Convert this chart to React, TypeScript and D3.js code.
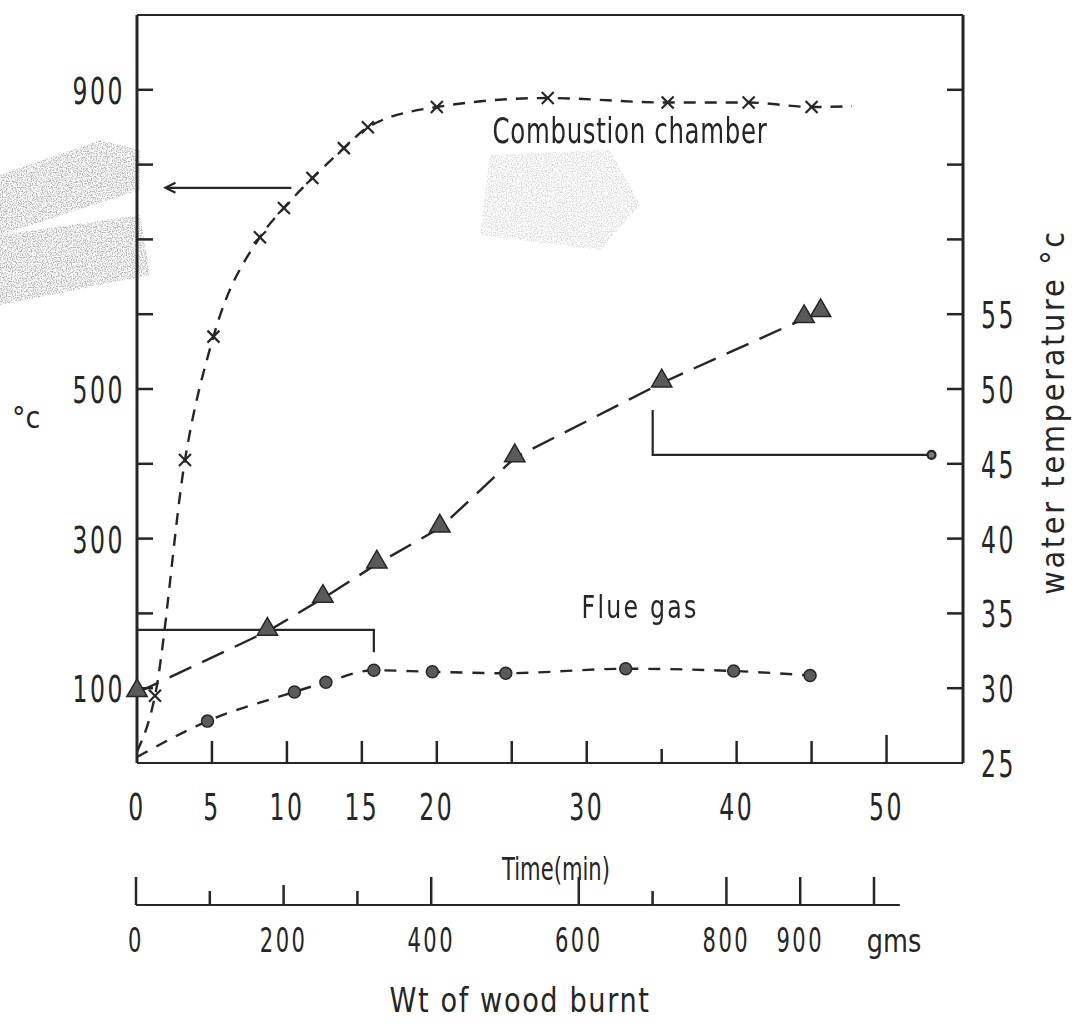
import React from "react";
import * as d3 from "d3";

// ---- data ----
const timeTicks = [5, 10, 15, 20, 25, 30, 35, 40, 45, 50];
const timeLabels = [0, 5, 10, 15, 20, 30, 40, 50];
const leftTicks = [100, 200, 300, 400, 500, 600, 700, 800, 900];
const leftLabels = [100, 300, 500, 900];
const rightTicks = [30, 35, 40, 45, 50, 55, 60, 65, 70];
const rightLabels = [25, 30, 35, 40, 45, 50, 55];
const woodTicks = [0, 100, 200, 300, 400, 600, 700, 800, 900, 1000];
const woodLabels = [0, 200, 400, 600, 800, 900];

const combustionTime = [0, 1.2, 3.2, 5.1, 8.2, 9.8, 11.7, 13.8, 15.4, 20.0, 27.4, 35.4, 40.8, 45.0];
const combustionTemp = [15, 90, 405, 570, 703, 742, 782, 822, 850, 877, 889, 883, 883, 877];
const combustionTail = [47.7, 878];

const waterTime = [0, 8.7, 12.4, 16.0, 20.2, 25.2, 35.0, 44.5, 45.6];
const waterTemp = [29.7, 33.8, 36.0, 38.3, 40.7, 45.4, 50.4, 54.7, 55.1];

const flueTime = [0, 4.7, 10.5, 12.6, 15.8, 19.7, 24.6, 32.6, 39.8, 44.9];
const flueTemp = [8, 56, 95, 108, 124, 122, 120, 126, 123, 117];

// pointer lines (time, value)
const combPointer = { t0: 1.9, t1: 10.3, v: 769 };
const fluePointer = { t0: 0, t1: 15.8, v0: 178, v1: 148 };
const waterPointer = { t: 34.4, t1: 53.0, w0: 48.6, w1: 45.6 };

const INK = "#262626";
const FONT = "'DejaVu Sans', 'Liberation Sans', sans-serif";

function CText({ x, y, children, size = 30, sx = 0.72, anchor = "middle", rotate = 0, ls = 0 }: any) {
  return (
    <text
      transform={`translate(${x},${y}) rotate(${rotate}) scale(${sx},1)`}
      textAnchor={anchor}
      fontSize={size}
      fontFamily={FONT}
      fill={INK}
      letterSpacing={ls}
    >
      {children}
    </text>
  );
}

export default function App() {
  const W = 1082, H = 1031;
  const x = d3.scaleLinear().domain([0, 55.1]).range([137, 963]);
  const yL = d3.scaleLinear().domain([0, 1000]).range([763, 15]);
  const yR = d3.scaleLinear().domain([25, 75]).range([763, 15]);
  const xW = d3.scaleLinear().domain([0, 1000]).range([136, 874]);

  const combPts: [number, number][] = combustionTime.map((t, i) => [x(t), yL(combustionTemp[i])]);
  const combLine = d3.line().curve(d3.curveMonotoneX)([...combPts, [x(combustionTail[0]), yL(combustionTail[1])]]);
  const waterPts: [number, number][] = waterTime.map((t, i) => [x(t), yR(waterTemp[i])]);
  const waterLine = d3.line()(waterPts);
  const fluePts: [number, number][] = flueTime.map((t, i) => [x(t), yL(flueTemp[i])]);
  const flueLine = d3.line().curve(d3.curveMonotoneX)(fluePts);
  const tri = d3.symbol(d3.symbolTriangle, 180)();

  return (
    <svg width={W} height={H} style={{ position: "absolute", left: 0, top: 0, background: "#fff" }}>
      <defs>
        <filter id="speck" x="0" y="0" width="100%" height="100%">
          <feTurbulence type="fractalNoise" baseFrequency="0.8" numOctaves="1" seed="3" result="n" />
          <feColorMatrix in="n" type="matrix" values="0 0 0 0 0.3  0 0 0 0 0.3  0 0 0 0 0.3  0 0 0 -4 2.3" result="m" />
          <feComposite in="m" in2="SourceGraphic" operator="in" />
        </filter>
      </defs>
      {/* scan smudges */}
      <g filter="url(#speck)" opacity={0.7}>
        <path d="M0,175 L100,140 L140,150 L140,190 L0,235 Z" fill="#000" />
        <path d="M0,235 L140,215 L150,275 L0,305 Z" fill="#000" />
        <path d="M490,155 L610,150 L640,205 L600,250 L480,235 Z" fill="#000" opacity={0.5} />
      </g>

      {/* frame */}
      <g stroke={INK} strokeWidth={3} fill="none">
        <line x1={x(0)} y1={yL(0)} x2={x(0)} y2={yL(1000)} />
        <line x1={x(0)} y1={yL(1000)} x2={x(55.1)} y2={yL(1000)} strokeWidth={2} />
        <line x1={x(55.1)} y1={yL(1000)} x2={x(55.1)} y2={yL(0)} />
        <line x1={x(0)} y1={yL(0)} x2={x(55.1)} y2={yL(0)} strokeWidth={2} />
      </g>

      {/* ticks */}
      <g stroke={INK} strokeWidth={2.5}>
        {timeTicks.map((t) => (
          <line key={t} x1={x(t)} x2={x(t)} y1={yL(0)} y2={yL(0) - (t === 50 ? 28 : t === 35 ? 14 : 22)} />
        ))}
        {leftTicks.map((v) => (
          <line key={v} x1={x(0)} x2={x(0) + 16} y1={yL(v)} y2={yL(v)} />
        ))}
        {rightTicks.map((v) => (
          <line key={v} x1={x(55.1)} x2={x(55.1) - 16} y1={yR(v)} y2={yR(v)} />
        ))}
      </g>

      {/* tick labels */}
      {timeLabels.map((t) => (
        <CText key={t} x={x(t)} y={820} size={38} sx={0.62} ls={4}>{t}</CText>
      ))}
      {leftLabels.map((v) => (
        <CText key={v} x={125} y={yL(v) + 14} size={38} sx={0.62} anchor="end" ls={4}>{v}</CText>
      ))}
      {rightLabels.map((v) => (
        <CText key={v} x={x(55.1) + 18} y={yR(v) + 14} size={38} sx={0.62} anchor="start" ls={4}>{v}</CText>
      ))}

      {/* axis titles */}
      <CText x={12} y={428} size={30} anchor="start" sx={0.9}>°c</CText>
      <CText x={1064} y={412} size={32} rotate={-90} sx={0.9} ls={3}>water temperature °c</CText>
      <CText x={556} y={880} size={32} sx={0.66}>Time(min)</CText>

      {/* wood axis */}
      <g stroke={INK} strokeWidth={2}>
        <line x1={xW(0)} x2={xW(1035)} y1={905} y2={905} />
        {woodTicks.map((g) => (
          <line key={g} x1={xW(g)} x2={xW(g)} y1={905} y2={905 - ([100, 300, 700].includes(g) ? 14 : g === 200 ? 20 : 28)} strokeWidth={2.5} />
        ))}
      </g>
      {woodLabels.map((g) => (
        <CText key={g} x={xW(g)} y={952} size={34} sx={0.62} ls={4}>{g}</CText>
      ))}
      <CText x={xW(1000) + 20} y={952} size={32} sx={0.8}>gms</CText>
      <CText x={520} y={1012} size={34} sx={0.8} ls={2}>Wt of wood burnt</CText>

      {/* pointer lines */}
      <g stroke={INK} strokeWidth={2.2} fill="none">
        <line x1={x(combPointer.t0)} x2={x(combPointer.t1)} y1={yL(combPointer.v)} y2={yL(combPointer.v)} />
        <path d={`M${x(combPointer.t0) + 10},${yL(combPointer.v) - 5} L${x(combPointer.t0)},${yL(combPointer.v)} L${x(combPointer.t0) + 10},${yL(combPointer.v) + 5}`} />
        <polyline points={`${x(fluePointer.t0)},${yL(fluePointer.v0)} ${x(fluePointer.t1)},${yL(fluePointer.v0)} ${x(fluePointer.t1)},${yL(fluePointer.v1)}`} />
        <polyline points={`${x(waterPointer.t)},${yR(waterPointer.w0)} ${x(waterPointer.t)},${yR(waterPointer.w1)} ${x(waterPointer.t1)},${yR(waterPointer.w1)}`} />
        <circle cx={x(waterPointer.t1)} cy={yR(waterPointer.w1)} r={4} fill="#777" />
      </g>

      {/* series lines */}
      <g fill="none" stroke={INK} strokeWidth={2.4}>
        <path d={combLine || ""} strokeDasharray="12 9" />
        <path d={waterLine || ""} strokeDasharray="24 12" />
        <path d={flueLine || ""} strokeDasharray="12 10" />
      </g>

      {/* markers */}
      <g stroke={INK} strokeWidth={2.2}>
        {combPts.slice(1).map(([px, py], i) => (
          <g key={i} transform={`translate(${px},${py})`}>
            <line x1={-6} y1={-6} x2={6} y2={6} />
            <line x1={-6} y1={6} x2={6} y2={-6} />
          </g>
        ))}
      </g>
      <g fill="#5a5a5a" stroke={INK} strokeWidth={1.5}>
        {waterPts.map(([px, py], i) => (
          <path key={i} d={tri || ""} transform={`translate(${px},${py - 2})`} />
        ))}
        {fluePts.slice(1).map(([px, py], i) => (
          <circle key={i} cx={px} cy={py} r={6} />
        ))}
      </g>

      {/* series labels */}
      <CText x={630} y={143} size={36} sx={0.68} ls={1}>Combustion chamber</CText>
      <CText x={640} y={618} size={32} sx={0.74} ls={3}>Flue gas</CText>
    </svg>
  );
}
